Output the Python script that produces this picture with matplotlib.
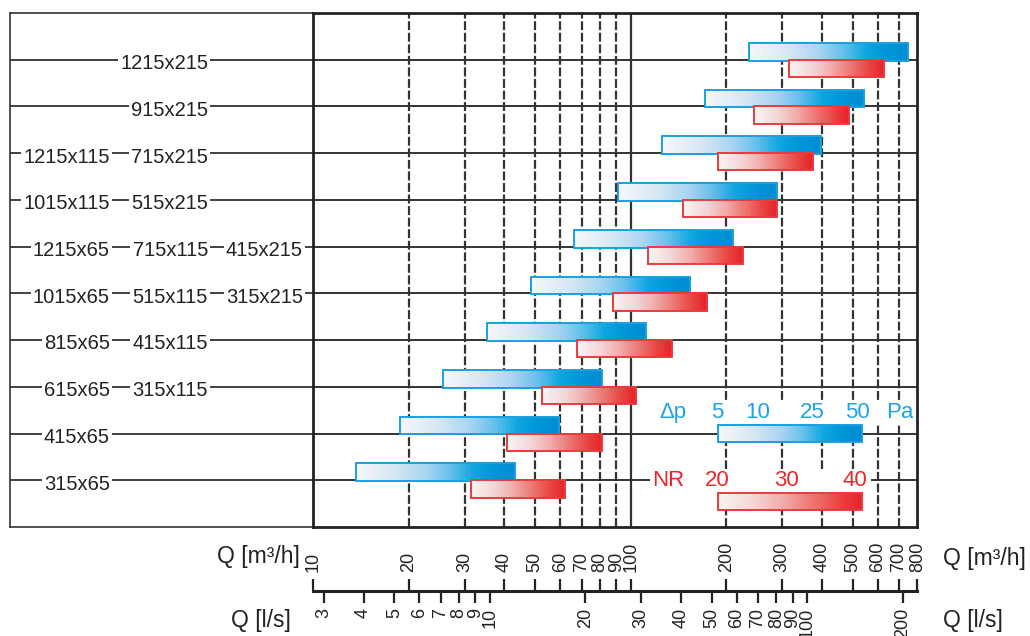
import numpy as np
import matplotlib.pyplot as plt
from matplotlib.colors import LinearSegmentedColormap
from matplotlib.patches import Rectangle
from matplotlib.ticker import FixedLocator, NullLocator

plt.rcParams['font.family'] = ['Liberation Sans', 'DejaVu Sans']

# Linhas do diagrama (de cima para baixo), três colunas de rótulos
row_col1 = ['', '', '1215x115', '1015x115', '1215x65', '1015x65', '815x65', '615x65', '415x65', '315x65']
row_col2 = ['1215x215', '915x215', '715x215', '515x215', '715x115', '515x115', '415x115', '315x115', '', '']
row_col3 = ['', '', '', '', '415x215', '315x215', '', '', '', '']

# Faixas de vazão Q [m3/h] - barra azul (Δp 5..50 Pa) e vermelha (NR 20..40)
blue_lo = [236, 171.4, 125.5, 91.2, 66.3, 48.4, 35.3, 25.6, 18.7, 13.6]
blue_hi = [747, 542, 398, 289, 210, 153.4, 111.7, 81.4, 59.5, 43.2]
red_lo = [315, 244.5, 188.4, 146.2, 113.6, 87.8, 67.9, 52.4, 40.9, 31.3]
red_hi = [628, 487, 375, 289, 225.4, 173.5, 134.6, 103.9, 81.2, 62.2]

# Grade e eixos
grid_q = [20, 30, 40, 50, 60, 70, 80, 90, 200, 300, 400, 500, 600, 700]
q_ticks = [10, 20, 30, 40, 50, 60, 70, 80, 90, 100, 200, 300, 400, 500, 600, 700, 800]
ls_ticks = [3, 4, 5, 6, 7, 8, 9, 10, 20, 30, 40, 50, 60, 70, 80, 90, 100, 200]

# Legenda
legend_range = [188, 535]
dp_labels = ['Δp', '5', '10', '25', '50', 'Pa']
dp_pos = [136, 187, 252, 372, 520, 705]
nr_labels = ['NR', '20', '30', '40']
nr_pos = [131, 187, 310, 508]

BLUE_TXT = '#1ba3e3'
RED_TXT = '#e8262b'
LINE = '#333333'
TICK_FONT = ['Liberation Sans Narrow', 'Liberation Sans']

cmap_blue = LinearSegmentedColormap.from_list('b', [
    (0, '#f6f7f9'), (0.25, '#d5e6f3'), (0.45, '#a6d3f0'), (0.6, '#62bfeb'),
    (0.74, '#0ea6df'), (0.86, '#0096d7'), (1, '#008cd2')])
cmap_red = LinearSegmentedColormap.from_list('r', [
    (0, '#f8f4f4'), (0.25, '#f3d5d5'), (0.45, '#f0acab'), (0.65, '#ec7874'),
    (0.85, '#e84442'), (1, '#e5242a')])

W, H = 1030, 636


def px(x0, y0, x1, y1):
    return [x0 / W, 1 - y1 / H, (x1 - x0) / W, (y1 - y0) / H]


def grad_bar(ax, lo, hi, y, h, cmap, edge, z, n=120):
    # barra com degradê em escala log
    e = np.logspace(np.log10(lo), np.log10(hi), n + 1)
    ax.pcolormesh(e, [y, y + h], np.linspace(0, 1, n)[None, :], cmap=cmap,
                  vmin=0, vmax=1, shading='flat', antialiased=False, zorder=z)
    ax.add_patch(Rectangle((lo, y), hi - lo, h, fill=False, ec=edge, lw=1.4, zorder=z + 0.1))


fig = plt.figure(figsize=(W / 100, H / 100), dpi=100)

# painel esquerdo com os rótulos
axl = fig.add_axes(px(10, 13, 313.3, 527))
axl.set_xlim(10, 313.3)
axl.set_ylim(11, 0)
axl.set_xticks([])
axl.set_yticks([])
for s in axl.spines.values():
    s.set_linewidth(1.2)
    s.set_color(LINE)
axl.spines['right'].set_visible(False)

rows = np.arange(1, len(row_col1) + 1)
col_x = [110, 208, 303]
for k, c1, c2, c3 in zip(rows, row_col1, row_col2, row_col3):
    axl.axhline(k, color=LINE, lw=1.3, zorder=1)
    for x, lab in zip(col_x, [c1, c2, c3]):
        if lab:
            axl.text(x, k + 0.2, lab, ha='right', va='baseline', fontsize=14.5, color='#222222', zorder=3,
                     bbox=dict(boxstyle='square,pad=0.12', fc='white', ec='none'))

# painel principal
ax = fig.add_axes(px(313.3, 13, 917.3, 527))
ax.set_xscale('log')
ax.set_xlim(10, 800)
ax.set_ylim(11, 0)
ax.tick_params(which='both', bottom=False, left=False, labelbottom=False, labelleft=False)
for s in ax.spines.values():
    s.set_linewidth(2)
    s.set_color('#222222')

for q in grid_q:
    ax.axvline(q, color=LINE, lw=1.6, ls=(0, (4, 1.2)), zorder=1)
ax.axvline(100, color=LINE, lw=1.6, zorder=1)
for k in rows:
    ax.axhline(k, color=LINE, lw=1.4, zorder=1)

for k, bl, bh, rl, rh in zip(rows, blue_lo, blue_hi, red_lo, red_hi):
    grad_bar(ax, bl, bh, k - 0.36, 0.38, cmap_blue, '#19a0e0', 3)
    grad_bar(ax, rl, rh, k, 0.37, cmap_red, '#ec3a3e', 4)

# legenda
ax.add_patch(Rectangle((124, 8.28), 776 - 124, 0.52, fc='white', ec='none', zorder=2))
ax.add_patch(Rectangle((115, 9.76), 570 - 115, 0.5, fc='white', ec='none', zorder=2))
for lab, q in zip(dp_labels, dp_pos):
    ax.text(q, 8.54, lab, ha='center', va='center', fontsize=16, color=BLUE_TXT, zorder=5)
for lab, q in zip(nr_labels, nr_pos):
    ax.text(q, 10.0, lab, ha='center', va='center', fontsize=16, color=RED_TXT, zorder=5)
grad_bar(ax, legend_range[0], legend_range[1], 8.82, 0.37, cmap_blue, '#19a0e0', 3)
grad_bar(ax, legend_range[0], legend_range[1], 10.28, 0.36, cmap_red, '#ec3a3e', 4)

# eixo inferior duplo: m3/h em cima, l/s embaixo
axm = fig.add_axes(px(313.3, 590, 917.3, 591))
axm.set_xscale('log')
axm.set_xlim(10, 800)
axm.set_yticks([])
axm.patch.set_visible(False)

axs = axm.twiny()
axs.set_xscale('log')
axs.set_xlim(10 / 3.6, 800 / 3.6)
axs.patch.set_visible(False)
for s in axs.spines.values():
    s.set_visible(False)
axs.xaxis.tick_bottom()
axs.xaxis.set_major_locator(FixedLocator(ls_ticks))
axs.xaxis.set_minor_locator(NullLocator())
axs.set_xticklabels([str(v) for v in ls_ticks], rotation=90, family=TICK_FONT)
axs.tick_params(axis='x', direction='out', length=8.6, width=1.6, pad=3.6,
                labelsize=13, color='#222222', labelcolor='#222222')

# twiny devolve os ticks do eixo original para baixo, então ajusta depois
for s in ['top', 'left', 'right']:
    axm.spines[s].set_visible(False)
axm.spines['bottom'].set_linewidth(2.2)
axm.spines['bottom'].set_color('#222222')
axm.xaxis.tick_top()
axm.xaxis.set_major_locator(FixedLocator(q_ticks))
axm.xaxis.set_minor_locator(NullLocator())
axm.set_xticklabels([str(v) for v in q_ticks], rotation=90, family=TICK_FONT)
axm.tick_params(axis='x', direction='out', length=7.7, width=1.6, pad=5,
                labelsize=13, color='#222222', labelcolor='#222222')

# títulos dos eixos
fig.text(300 / W, 1 - 557 / H, 'Q [m³/h]', ha='right', va='center', fontsize=16.5, color='#222222')
fig.text(943 / W, 1 - 559 / H, 'Q [m³/h]', ha='left', va='center', fontsize=16.5, color='#222222')
fig.text(291 / W, 1 - 620 / H, 'Q [l/s]', ha='right', va='center', fontsize=16.5, color='#222222')
fig.text(943 / W, 1 - 620 / H, 'Q [l/s]', ha='left', va='center', fontsize=16.5, color='#222222')

fig.savefig('out.png', dpi=100)
